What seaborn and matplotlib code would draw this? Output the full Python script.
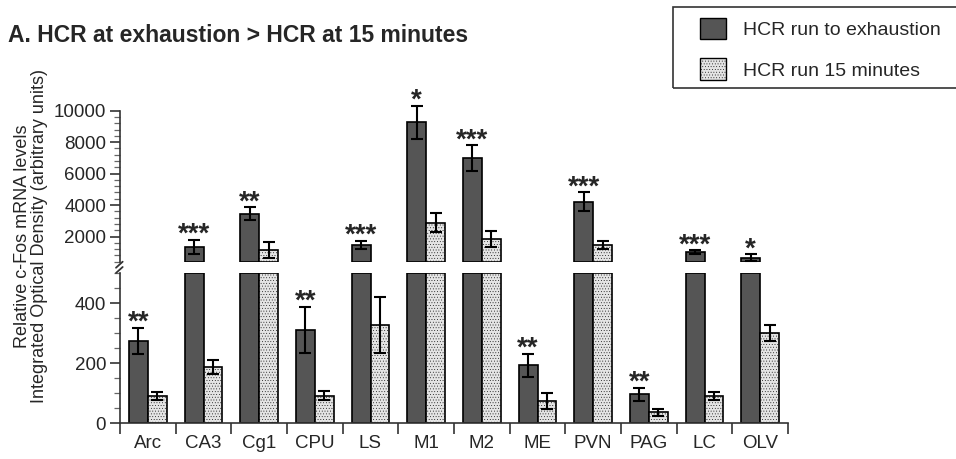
import numpy as np
import pandas as pd
import seaborn as sns
import matplotlib.pyplot as plt
from matplotlib.patches import Patch, Rectangle
from matplotlib.ticker import MultipleLocator

# data
regions = ['Arc', 'CA3', 'Cg1', 'CPU', 'LS', 'M1', 'M2', 'ME', 'PVN', 'PAG', 'LC', 'OLV']
exhaustion = [273, 1350, 3450, 311, 1470, 9250, 6980, 193, 4220, 96, 1030, 650]
exhaustion_err = [44, 430, 400, 76, 270, 1080, 820, 38, 580, 21, 110, 220]
minutes15 = [91, 187, 1150, 91, 326, 2890, 1850, 74, 1470, 36, 91, 300]
minutes15_err = [13, 22, 500, 15, 94, 620, 500, 27, 250, 11, 14, 28]
stars = ['**', '***', '**', '**', '***', '*', '***', '**', '***', '**', '***', '*']
groups = ['HCR run to exhaustion', 'HCR run 15 minutes']

sns.set_style('white')
plt.rcParams['font.family'] = ['Liberation Sans', 'DejaVu Sans']
plt.rcParams['hatch.linewidth'] = 0.25

dark = '#555555'
light = '#e4e4e4'
cut = 500        # bottom panel limit
floor = 400      # top panel lower limit

df = pd.DataFrame({
    'region': regions * 2,
    'group': [groups[0]] * len(regions) + [groups[1]] * len(regions),
    'value': exhaustion + minutes15,
    'err': exhaustion_err + minutes15_err,
})
df['low'] = df['value'].clip(upper=cut)
df['high'] = df['value'].where(df['value'] > cut, 0)

fig = plt.figure(figsize=(9.56, 4.59), dpi=100)
W, H = 956, 459
ax_top = fig.add_axes([120 / W, (H - 261.7) / H, 668 / W, 151 / H])
ax_bot = fig.add_axes([120 / W, (H - 423) / H, 668 / W, 150 / H])

pal = {groups[0]: dark, groups[1]: light}
for ax, col in [(ax_top, 'high'), (ax_bot, 'low')]:
    sns.barplot(data=df, x='region', y=col, hue='group', palette=pal, width=0.68,
                edgecolor='black', linewidth=1.2, saturation=1, legend=False,
                errorbar=None, ax=ax)
    n = len(regions)
    for i, p in enumerate(ax.patches[:2 * n]):
        if i >= n:
            p.set_hatch('......')

# top panel bars start at the panel floor so they show a closed bottom edge
for p in ax_top.patches[:2 * len(regions)]:
    h = p.get_height()
    if h > cut:
        p.set_y(floor)
        p.set_height(h - floor)

centers = [p.get_x() + p.get_width() / 2 for p in ax_bot.patches[:2 * len(regions)]]
df['x'] = centers

for ax, sel in [(ax_top, df['value'] > cut), (ax_bot, df['value'] <= cut)]:
    d = df[sel]
    ax.errorbar(d['x'], d['value'], yerr=d['err'], fmt='none', ecolor='black',
                elinewidth=1.5, capsize=4.5, capthick=1.5, clip_on=False, zorder=5)

dark_rows = df[df['group'] == groups[0]].reset_index(drop=True)
for i, row in dark_rows.iterrows():
    ax = ax_top if row['value'] > cut else ax_bot
    ax.annotate(stars[i], xy=(row['x'], row['value'] + row['err']), xytext=(0, -1.5),
                textcoords='offset points', ha='center', va='baseline',
                fontsize=20, fontweight='bold', annotation_clip=False)

# axes styling
for ax in (ax_top, ax_bot):
    ax.set_xlim(-0.5, len(regions) - 0.5)
    ax.set_xlabel('')
    ax.set_ylabel('')
    for s in ['top', 'right']:
        ax.spines[s].set_visible(False)
    ax.spines['left'].set_linewidth(1.2)
    ax.spines['left'].set_color('#333333')
    ax.tick_params(axis='y', which='major', length=7, width=1.2, color='#333333',
                   labelsize=13.5, pad=3, left=True)
    ax.tick_params(axis='y', which='minor', length=4, width=0.9, color='#666666', left=True)

ax_top.set_ylim(floor, 10000)
ax_top.set_yticks([2000, 4000, 6000, 8000, 10000])
ax_top.yaxis.set_minor_locator(MultipleLocator(400))
ax_top.spines['bottom'].set_visible(False)
ax_top.set_xticks([])

ax_bot.set_ylim(0, cut)
ax_bot.set_yticks([0, 200, 400])
ax_bot.yaxis.set_minor_locator(MultipleLocator(50))
ax_bot.spines['bottom'].set_linewidth(1.2)
ax_bot.spines['bottom'].set_color('#333333')
ax_bot.set_xticks(range(len(regions)))
ax_bot.set_xticklabels(regions)
ax_bot.set_xticks(np.arange(-0.5, len(regions), 1), minor=True)
ax_bot.tick_params(axis='x', which='major', length=0, labelsize=13.5, pad=9)
ax_bot.tick_params(axis='x', which='minor', length=8, width=1.2, color='#333333', bottom=True)

# break marks on the left spine
kw = dict(color='#333333', linewidth=1.3, clip_on=False)
ax_top.plot([-0.006, 0.004], [-0.04, 0.0], transform=ax_top.transAxes, **kw)
ax_bot.plot([-0.006, 0.004], [1.0, 1.04], transform=ax_bot.transAxes, **kw)

fig.text(8 / W, 1 - 36 / H, 'A. HCR at exhaustion > HCR at 15 minutes',
         fontsize=16.5, fontweight='bold', ha='left', va='center')
fig.text(31 / W, 1 - 236 / H,
         'Relative c-Fos mRNA levels\nIntegrated Optical Density (arbitrary units)',
         rotation=90, ha='center', va='center', fontsize=13, multialignment='center',
         linespacing=1.05)

# legend box runs off the right edge of the figure
fig.patches.append(Rectangle((673 / W, 1 - 88 / H), 300 / W, 81 / H, fill=False,
                             edgecolor='#333333', linewidth=1.2,
                             transform=fig.transFigure, figure=fig))
handles = [Patch(facecolor=dark, edgecolor='black', linewidth=1.0),
           Patch(facecolor=light, edgecolor='black', linewidth=1.0, hatch='......')]
fig.legend(handles, groups, loc='upper left', bbox_to_anchor=(694 / W, 1 - 12 / H),
           fontsize=14, frameon=False, handlelength=1.35, handleheight=1.3,
           handletextpad=0.85, labelspacing=1.0, borderpad=0.3, borderaxespad=0)

fig.savefig('out.png', dpi=100)
